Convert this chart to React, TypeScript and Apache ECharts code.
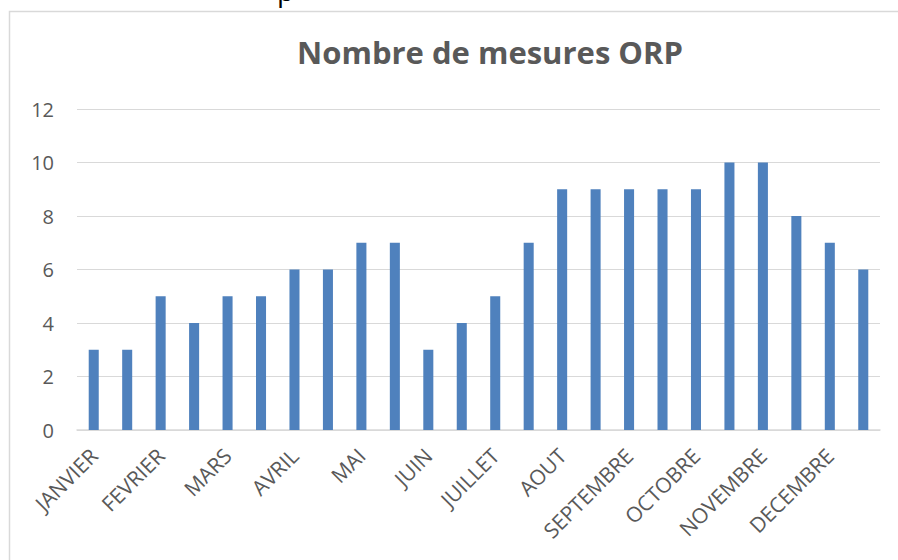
import React, { useEffect, useRef } from "react";
import * as echarts from "echarts";

const TITLE = "Nombre de mesures ORP";
const MONTHS = [
  "JANVIER", "FEVRIER", "MARS", "AVRIL", "MAI", "JUIN",
  "JUILLET", "AOUT", "SEPTEMBRE", "OCTOBRE", "NOVEMBRE", "DECEMBRE",
];
// two measurement bars per month
const VALUES = [3, 3, 5, 4, 5, 5, 6, 6, 7, 7, 3, 4, 5, 7, 9, 9, 9, 9, 9, 10, 10, 8, 7, 6];
const Y_TICKS = { min: 0, max: 12, interval: 2 };

const CATEGORIES = VALUES.map((_, i) => (i % 2 === 0 ? MONTHS[i / 2] : ""));

const FONT = "'Open Sans', 'Noto Sans', sans-serif";
const TEXT = "#595959";

export default function App() {
  const ref = useRef<HTMLDivElement>(null);
  useEffect(() => {
    if (!ref.current) return;
    const chart = echarts.init(ref.current, null, { renderer: "svg" });
    chart.setOption({
      animation: false,
      backgroundColor: "#ffffff",
      title: {
        text: TITLE,
        left: 485,
        top: 31,
        textAlign: "center",
        textStyle: { fontFamily: FONT, fontSize: 31, fontWeight: "bold", color: TEXT },
      },
      graphic: [
        {
          type: "rect",
          shape: { x: 9.5, y: 11.5, width: 900, height: 560 },
          style: { fill: "none", stroke: "#d9d9d9", lineWidth: 1.5 },
          silent: true,
        },
        {
          type: "text",
          x: 277,
          y: -24,
          style: { text: "p", fontFamily: FONT, fontSize: 28, fill: "#000000" },
          silent: true,
        },
      ],
      grid: { left: 77, right: 18, top: 109, bottom: 130, containLabel: false },
      xAxis: {
        type: "category",
        data: CATEGORIES,
        axisLine: { lineStyle: { color: "#d9d9d9", width: 1.5 } },
        axisTick: { show: false },
        axisLabel: {
          interval: 0,
          rotate: 45,
          margin: 22,
          fontFamily: FONT,
          fontSize: 21,
          color: TEXT,
        },
      },
      yAxis: {
        type: "value",
        min: Y_TICKS.min,
        max: Y_TICKS.max,
        interval: Y_TICKS.interval,
        axisLine: { show: false },
        axisTick: { show: false },
        splitLine: { lineStyle: { color: "#d9d9d9", width: 1 } },
        axisLabel: { margin: 23, fontFamily: FONT, fontSize: 20, color: TEXT },
      },
      series: [
        {
          type: "bar",
          data: VALUES,
          barWidth: "30%",
          itemStyle: { color: "#4f81bd" },
        },
      ],
    });
    return () => chart.dispose();
  }, []);
  return (
    <div
      ref={ref}
      style={{ position: "fixed", left: 0, top: 0, width: 898, height: 560, background: "#fff" }}
    />
  );
}
